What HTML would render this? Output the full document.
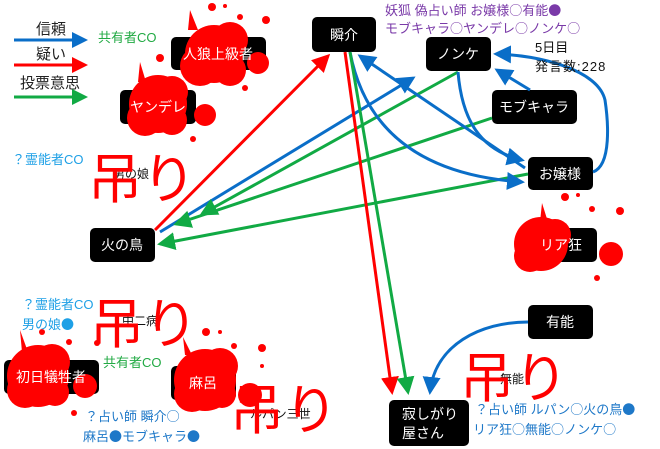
<!DOCTYPE html>
<html><head><meta charset="utf-8"><style>
html,body{margin:0;padding:0;background:#fff;}
svg{display:block;}
text{font-family:"Liberation Sans","Noto Sans CJK JP",sans-serif;}
.cj{font-family:"Noto Sans CJK JP",sans-serif;}
</style></head><body>
<svg width="660" height="449" viewBox="0 0 660 449" xmlns="http://www.w3.org/2000/svg">
<defs>
<marker id="mb" markerWidth="6" markerHeight="6" refX="5" refY="3" orient="auto" markerUnits="strokeWidth"><path d="M0,0 L6,3 L0,6 z" fill="#0a6ec8"/></marker>
<marker id="mr" markerWidth="6" markerHeight="6" refX="5" refY="3" orient="auto" markerUnits="strokeWidth"><path d="M0,0 L6,3 L0,6 z" fill="#f00"/></marker>
<marker id="mg" markerWidth="6" markerHeight="6" refX="5" refY="3" orient="auto" markerUnits="strokeWidth"><path d="M0,0 L6,3 L0,6 z" fill="#11aa44"/></marker>
</defs>

<!-- legend -->
<text x="36" y="34" font-size="15" fill="#222">信頼</text>
<line x1="14" y1="40" x2="72" y2="40" stroke="#0a6ec8" stroke-width="3"/><path d="M72,32 L88,40 L72,48 z" fill="#0a6ec8"/>
<text x="36" y="59" font-size="15" fill="#222">疑い</text>
<line x1="14" y1="65" x2="72" y2="65" stroke="#f00" stroke-width="3"/><path d="M72,57 L88,65 L72,73 z" fill="#f00"/>
<text x="20" y="88" font-size="15" fill="#222">投票意思</text>
<line x1="14" y1="97" x2="72" y2="97" stroke="#11aa44" stroke-width="3"/><path d="M72,89 L88,97 L72,105 z" fill="#11aa44"/>
<text x="98" y="42" font-size="13" fill="#22aa44">共有者CO</text>

<!-- nodes -->
<g fill="#000">
<rect x="171" y="37" width="95" height="33" rx="5"/>
<rect x="120" y="90" width="76" height="34" rx="5"/>
<rect x="312" y="17" width="64" height="35" rx="5"/>
<rect x="426" y="37" width="65" height="34" rx="5"/>
<rect x="492" y="90" width="85" height="34" rx="5"/>
<rect x="528" y="157" width="65" height="33" rx="5"/>
<rect x="90" y="228" width="65" height="34" rx="5"/>
<rect x="528" y="228" width="69" height="34" rx="5"/>
<rect x="528" y="305" width="65" height="34" rx="5"/>
<rect x="389" y="400" width="80" height="46" rx="5"/>
<rect x="4" y="360" width="95" height="34" rx="5"/>
<rect x="171" y="366" width="65" height="34" rx="5"/>
</g>

<!-- connectors -->
<g fill="none" stroke-width="3">
<line x1="155" y1="230" x2="328" y2="56" stroke="#f00" marker-end="url(#mr)"/>
<line x1="160" y1="232" x2="413" y2="78" stroke="#0a6ec8" marker-end="url(#mb)"/>
<line x1="458" y1="72" x2="202" y2="214" stroke="#11aa44" marker-end="url(#mg)"/>
<line x1="492" y1="118" x2="176" y2="224" stroke="#11aa44" marker-end="url(#mg)"/>
<line x1="528" y1="174" x2="160" y2="244" stroke="#11aa44" marker-end="url(#mg)"/>
<line x1="525" y1="168" x2="360" y2="56" stroke="#0a6ec8" marker-end="url(#mb)"/>
<path d="M350,52 C365,130 420,175 522,182" stroke="#0a6ec8" marker-end="url(#mb)"/>
<path d="M458,72 C462,120 480,150 522,160" stroke="#0a6ec8" marker-end="url(#mb)"/>
<line x1="530" y1="90" x2="497" y2="70" stroke="#0a6ec8" marker-end="url(#mb)"/>
<path d="M593,172 C612,165 608,120 605,100 C598,70 540,55 496,54" stroke="#0a6ec8" marker-end="url(#mb)"/>
<line x1="345" y1="52" x2="392" y2="392" stroke="#f00" marker-end="url(#mr)"/>
<line x1="350" y1="52" x2="408" y2="392" stroke="#11aa44" marker-end="url(#mg)"/>
<path d="M528,322 C480,322 435,345 430,392" stroke="#0a6ec8" marker-end="url(#mb)"/>
</g>

<!-- small labels under splats -->
<text x="113" y="178" font-size="12" fill="#111">男の娘</text>
<text x="122" y="325" font-size="12" fill="#111">中二病</text>
<text x="250" y="418" font-size="12" fill="#111">ルパン三世</text>
<text x="500" y="383" font-size="12" fill="#111">無能</text>

<!-- blood splats -->
<g fill="#f00">
<circle cx="214" cy="54" r="29"/><circle cx="200" cy="66" r="20"/><circle cx="230" cy="40" r="18"/><circle cx="230" cy="70" r="16"/>
<circle cx="258" cy="63" r="11"/><circle cx="212" cy="7" r="4"/><circle cx="240" cy="17" r="3"/><circle cx="266" cy="20" r="4"/><circle cx="160" cy="58" r="4"/><circle cx="245" cy="88" r="3"/><circle cx="225" cy="6" r="2"/>
<path d="M188,30 L190,10 L198,30 z"/>
<circle cx="158" cy="104" r="29"/><circle cx="145" cy="118" r="18"/><circle cx="172" cy="92" r="16"/><circle cx="172" cy="120" r="15"/>
<circle cx="205" cy="115" r="11"/><circle cx="193" cy="139" r="3"/>
<path d="M138,82 L140,62 L146,82 z"/>
<circle cx="541" cy="244" r="27"/><circle cx="555" cy="235" r="16"/><circle cx="530" cy="256" r="16"/>
<circle cx="611" cy="254" r="12"/><circle cx="565" cy="197" r="4"/><circle cx="592" cy="209" r="3"/><circle cx="620" cy="211" r="4"/><circle cx="597" cy="278" r="3"/><circle cx="578" cy="195" r="2"/>
<path d="M540,222 L542,203 L548,222 z"/>
<circle cx="38" cy="376" r="31"/><circle cx="25" cy="390" r="18"/><circle cx="52" cy="362" r="18"/><circle cx="55" cy="392" r="14"/>
<circle cx="85" cy="386" r="12"/><circle cx="42" cy="332" r="3"/><circle cx="69" cy="342" r="3"/><circle cx="97" cy="343" r="3"/><circle cx="74" cy="413" r="3"/>
<path d="M22,352 L20,330 L28,352 z"/>
<circle cx="205" cy="380" r="31"/><circle cx="192" cy="394" r="18"/><circle cx="220" cy="366" r="18"/><circle cx="222" cy="394" r="14"/>
<circle cx="250" cy="395" r="12"/><circle cx="206" cy="332" r="4"/><circle cx="220" cy="332" r="2"/><circle cx="234" cy="346" r="3"/><circle cx="262" cy="348" r="4"/><circle cx="262" cy="366" r="2"/>
<path d="M185,355 L183,337 L192,355 z"/>
</g>

<!-- node labels -->
<g fill="#fff" font-size="14" text-anchor="middle">
<text x="218" y="59">人狼上級者</text>
<text x="158" y="112">ヤンデレ</text>
<text x="344" y="40">瞬介</text>
<text x="458" y="59">ノンケ</text>
<text x="534" y="112">モブキャラ</text>
<text x="560" y="179">お嬢様</text>
<text x="122" y="250">火の鳥</text>
<text x="561" y="250">リア狂</text>
<text x="560" y="327">有能</text>
<text x="51" y="382">初日犠牲者</text>
<text x="203" y="388">麻呂</text>
<text x="402" y="419" text-anchor="start">寂しがり</text>
<text x="402" y="438" text-anchor="start">屋さん</text>
</g>

<!-- 吊り -->
<g fill="#f00" font-size="54">
<text x="88" y="198">吊り</text>
<text x="90" y="343">吊り</text>
<text x="230" y="429">吊り</text>
<text x="460" y="397">吊り</text>
</g>

<!-- annotations -->
<g font-size="13">
<text x="385" y="15" fill="#7a3aa8">妖狐 偽占い師 お嬢様<tspan class="cj">○</tspan>有能<tspan class="cj">●</tspan></text>
<text x="385" y="33" fill="#7a3aa8">モブキャラ<tspan class="cj">○</tspan>ヤンデレ<tspan class="cj">○</tspan>ノンケ<tspan class="cj">○</tspan></text>
<text x="535" y="52" fill="#111">5日目</text>
<text x="535" y="71" fill="#111" letter-spacing="1">発言数:228</text>
<text x="12" y="164" fill="#1ea0e6">？霊能者CO</text>
<text x="22" y="309" fill="#1ea0e6">？霊能者CO</text>
<text x="22" y="329" fill="#1ea0e6">男の娘<tspan class="cj">●</tspan></text>
<text x="103" y="367" fill="#22aa44">共有者CO</text>
<text x="85" y="421" fill="#1e78c8">？占い師 瞬介<tspan class="cj">○</tspan></text>
<text x="83" y="441" fill="#1e78c8">麻呂<tspan class="cj">●</tspan>モブキャラ<tspan class="cj">●</tspan></text>
<text x="475" y="414" fill="#1e78c8">？占い師 ルパン<tspan class="cj">○</tspan>火の鳥<tspan class="cj">●</tspan></text>
<text x="473" y="434" fill="#1e78c8">リア狂<tspan class="cj">○</tspan>無能<tspan class="cj">○</tspan>ノンケ<tspan class="cj">○</tspan></text>
</g>
</svg>
</body></html>
